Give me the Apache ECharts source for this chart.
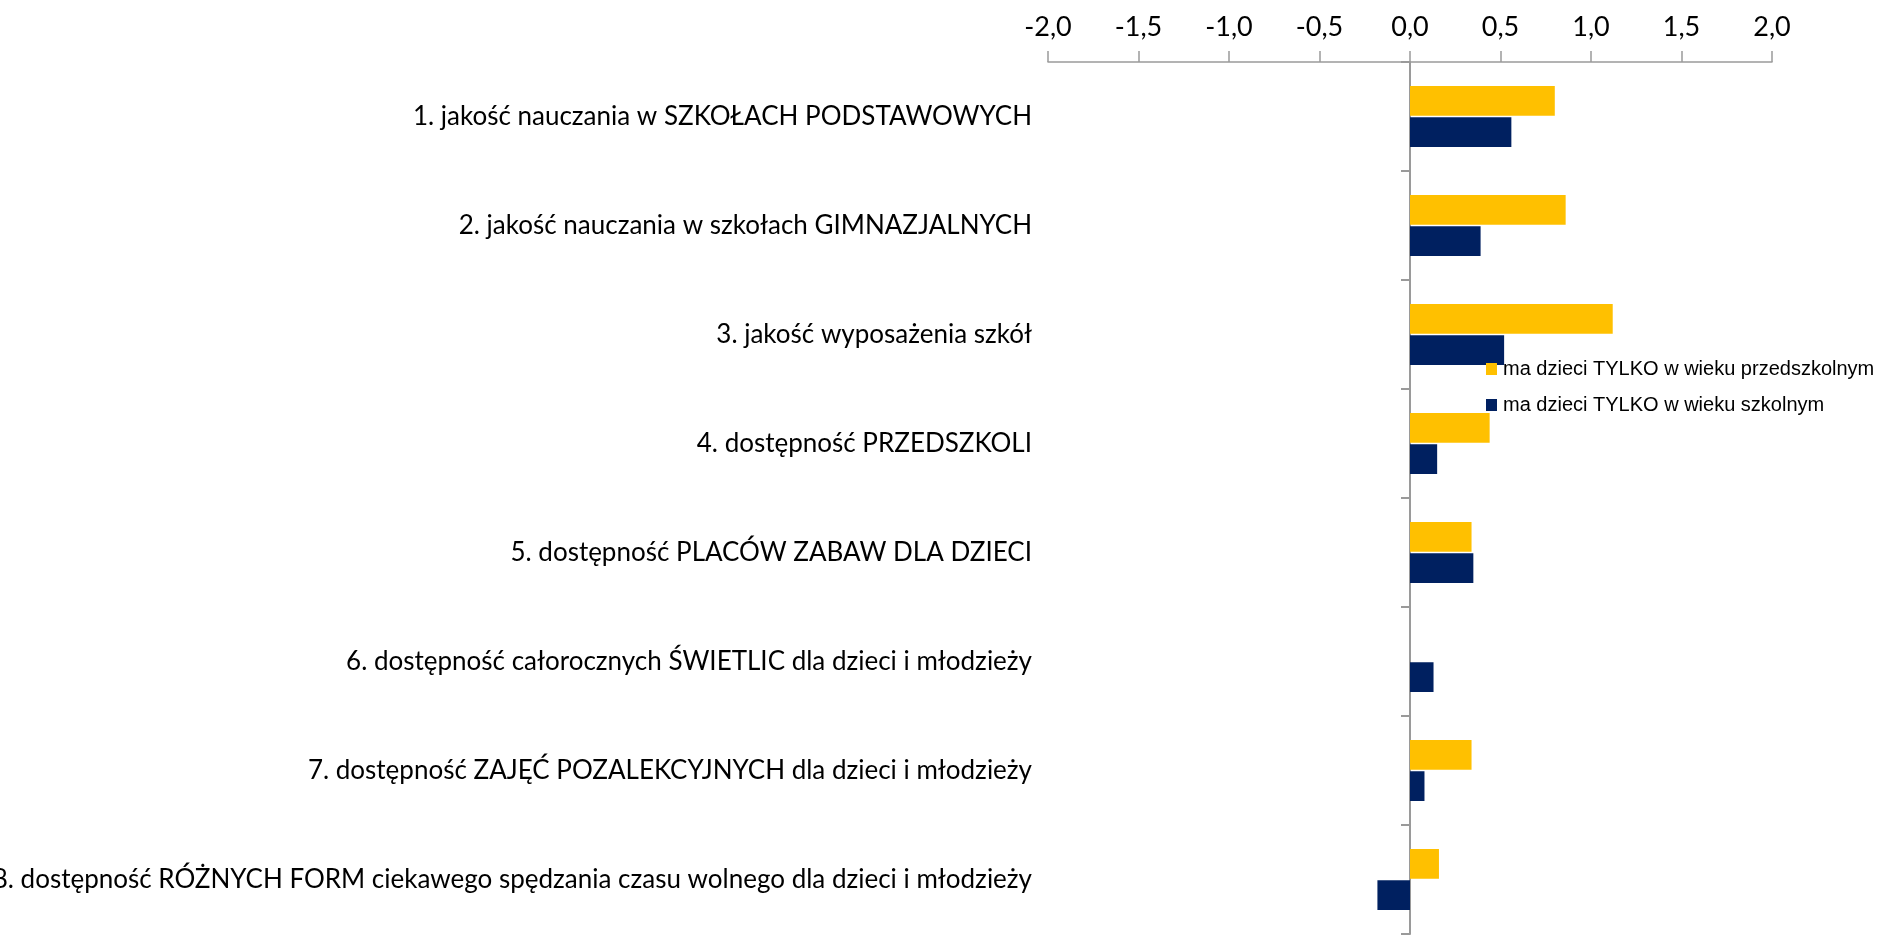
<!DOCTYPE html>
<html>
<head>
<meta charset="utf-8">
<script src="https://cdn.jsdelivr.net/npm/echarts@6/dist/echarts.min.js"></script>
<style>
  html, body { margin: 0; padding: 0; background: #ffffff; }
  #chart { width: 1884px; height: 936px; }
</style>
</head>
<body>
<div id="chart"></div>
<script>
// Survey items (top to bottom)
const categories = [
  '1. jakość nauczania w SZKOŁACH PODSTAWOWYCH',
  '2. jakość nauczania w szkołach GIMNAZJALNYCH',
  '3. jakość wyposażenia szkół',
  '4. dostępność PRZEDSZKOLI',
  '5. dostępność PLACÓW ZABAW DLA DZIECI',
  '6. dostępność całorocznych ŚWIETLIC dla dzieci i młodzieży',
  '7. dostępność ZAJĘĆ POZALEKCYJNYCH dla dzieci i młodzieży',
  '8. dostępność RÓŻNYCH FORM ciekawego spędzania czasu wolnego dla dzieci i młodzieży'
];

// Respondent groups
const seriesNames = [
  'ma dzieci TYLKO w wieku przedszkolnym',
  'ma dzieci TYLKO w wieku szkolnym'
];

// Mean scores per group
const preschoolValues = [0.80, 0.86, 1.12, 0.44, 0.34, 0, 0.34, 0.16];
const schoolValues    = [0.56, 0.39, 0.52, 0.15, 0.35, 0.13, 0.08, -0.18];

// Value axis range and step
const axisMin = -2.0;
const axisMax = 2.0;
const axisStep = 0.5;

const seriesColors = ['#FFC000', '#002060'];
const axisGray = '#9a9a9a';

const chart = echarts.init(document.getElementById('chart'), null, { renderer: 'canvas' });

const option = {
  animation: false,
  backgroundColor: '#ffffff',
  grid: {
    left: 1048,
    right: 112,
    top: 62,
    bottom: 2,
    containLabel: false,
    outerBoundsMode: 'none'
  },
  legend: {
    orient: 'vertical',
    left: 1486,
    top: 359,
    padding: 0,
    itemWidth: 11,
    itemHeight: 12,
    itemGap: 16,
    icon: 'rect',
    selectedMode: false,
    textStyle: {
      fontFamily: '"Liberation Sans", Arial, sans-serif',
      fontSize: 20,
      lineHeight: 20,
      color: '#000000',
      padding: [0, 0, 0, 1]
    },
    data: seriesNames
  },
  xAxis: {
    type: 'value',
    position: 'top',
    min: axisMin,
    max: axisMax,
    interval: axisStep,
    splitLine: { show: false },
    axisLine: { show: true, lineStyle: { color: axisGray, width: 1.5 } },
    axisTick: { show: true, length: 11, lineStyle: { color: axisGray, width: 1.5 } },
    axisLabel: {
      margin: 21,
      fontFamily: 'Lato, sans-serif',
      fontSize: 27,
      color: '#000000',
      formatter: v => v.toFixed(1).replace('.', ',')
    }
  },
  yAxis: [
    {
      // category labels on the left edge of the plot
      type: 'category',
      inverse: true,
      data: categories,
      position: 'left',
      axisLine: { show: false, onZero: false },
      axisTick: { show: false },
      axisLabel: {
        margin: 16,
        fontFamily: 'Lato, sans-serif',
        fontSize: 26,
        color: '#000000'
      }
    },
    {
      // axis line with boundary ticks drawn at value zero
      type: 'category',
      inverse: true,
      data: categories,
      position: 'left',
      axisLine: { show: true, onZero: true, lineStyle: { color: axisGray, width: 2 } },
      axisTick: { show: true, length: 9, lineStyle: { color: axisGray, width: 2 } },
      axisLabel: { show: false }
    }
  ],
  series: [
    {
      name: seriesNames[0],
      type: 'bar',
      yAxisIndex: 0,
      data: preschoolValues,
      barCategoryGap: '44%',
      barGap: '5%',
      itemStyle: { color: seriesColors[0] },
      z: 1
    },
    {
      name: seriesNames[1],
      type: 'bar',
      yAxisIndex: 0,
      data: schoolValues,
      barCategoryGap: '44%',
      barGap: '5%',
      itemStyle: { color: seriesColors[1] },
      z: 1
    }
  ]
};

chart.setOption(option);
</script>
</body>
</html>
